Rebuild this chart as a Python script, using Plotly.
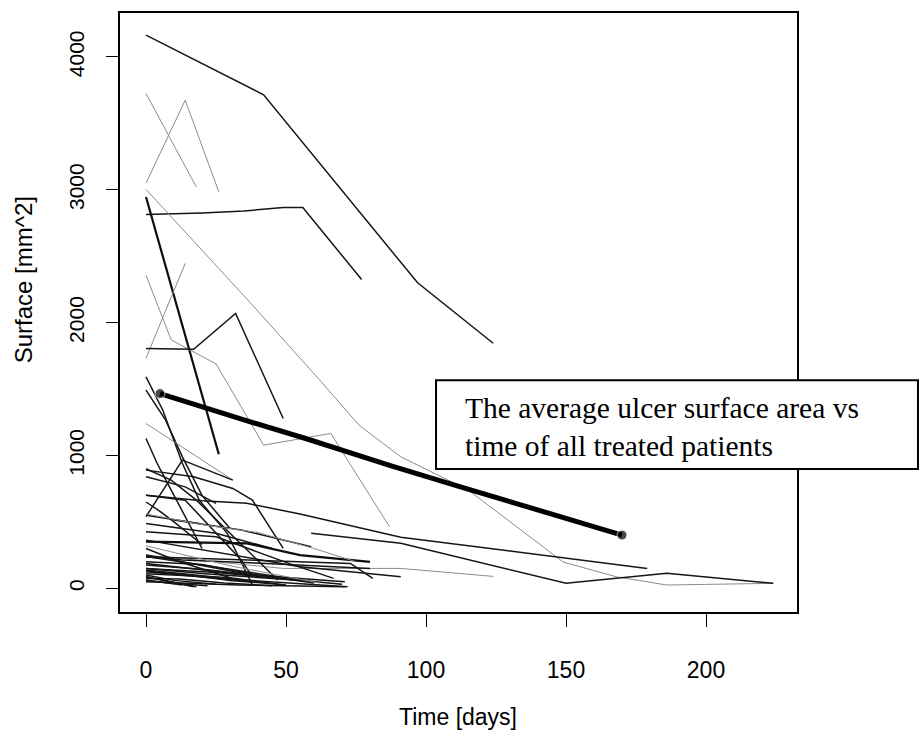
import plotly.graph_objects as go

# ---------------- data ----------------
patient_days = [
    [0, 42, 97, 124],
    [0, 18],
    [0, 14, 26],
    [0, 20, 35, 49, 56, 77],
    [0, 26],
    [0, 37, 62, 76, 91, 115, 149, 168, 186, 216, 224],
    [0, 9, 25, 42, 66, 87],
    [0, 14],
    [0, 17, 32, 49],
    [0, 6, 13, 19, 29, 38],
    [0, 7, 13, 20, 30],
    [0, 31],
    [0, 4, 9, 20],
    [0, 17, 31, 38, 49],
    [0, 14, 25],
    [0, 13, 31],
    [0, 20, 36, 55, 91, 179],
    [59, 91, 150, 186, 224],
    [0, 49, 91, 124],
    [0, 25, 51, 67],
    [0, 14, 31, 55, 91],
    [0, 73, 81],
    [0, 31, 55, 71],
    [0, 38],
    [0, 13],
    [0, 38],
    [0, 21, 55],
    [0, 17],
    [0, 33, 71],
    [10, 34, 59],
    [0, 9, 18, 36, 47],
    [0, 14, 34, 38],
    [0, 19],
    [0, 25, 45],
    [0, 36, 55, 80],
    [0, 13, 43, 80],
    [0, 35, 72],
    [0, 18],
    [0, 10, 25],
    [0, 20, 40, 60],
    [0, 12, 30],
    [0, 25, 50, 70],
    [0, 8, 22],
    [0, 30, 48],
    [0, 44, 56],
    [0, 5, 10, 20],
    [0, 20, 40, 60, 75],
    [0, 15, 30, 50],
    [0, 22, 40],
    [0, 12, 28, 45],
    [0, 30, 62],
]
patient_surface = [
    [4165, 3715, 2300, 1845],
    [3725, 3020],
    [3050, 3675, 2985],
    [2815, 2826, 2841, 2867, 2867, 2325],
    [2946, 1010],
    [3003, 2156, 1569, 1230, 990, 741, 198, 87, 25, 38, 38],
    [2357, 1870, 1690, 1078, 1166, 463],
    [1733, 2446],
    [1806, 1800, 2069, 1279],
    [1592, 1341, 940, 664, 414, 25],
    [1492, 1266, 990, 700, 450],
    [1241, 815],
    [1128, 940, 740, 300],
    [890, 840, 752, 664, 301],
    [840, 764, 640],
    [540, 965, 815],
    [700, 660, 640, 560, 384, 150],
    [414, 339, 38, 113, 38],
    [250, 150, 150, 90],
    [426, 388, 188, 75],
    [363, 313, 250, 163, 87],
    [238, 188, 75],
    [188, 113, 75, 50],
    [125, 50],
    [63, 25],
    [251, 100],
    [150, 110, 60],
    [88, 12],
    [50, 25, 12],
    [514, 439, 313],
    [900, 815, 664, 288, 63],
    [700, 664, 213, 87],
    [551, 489],
    [489, 414, 300],
    [351, 339, 250, 200],
    [238, 213, 188, 150],
    [138, 63, 12],
    [88, 12],
    [100, 60, 30],
    [200, 180, 100, 40],
    [300, 200, 80],
    [150, 120, 70, 30],
    [60, 40, 20],
    [110, 80, 30],
    [240, 100, 60],
    [650, 580, 500, 330],
    [560, 480, 420, 300, 200],
    [130, 100, 60, 25],
    [175, 140, 95],
    [75, 70, 40, 20],
    [320, 170, 40],
]
patient_tone = [
    "dark", "light", "light", "dark", "thick", "light", "light", "light",
    "dark", "dark", "dark", "light", "dark", "dark", "dark", "dark",
    "dark", "dark", "light", "dark", "dark", "dark", "dark", "dark",
    "dark", "dark", "dark", "dark", "dark", "dark", "dark", "dark",
    "dark", "dark", "thick", "dark", "dark", "dark", "dark", "dark",
    "dark", "dark", "dark", "dark", "dark", "dark", "light",
    "dark", "dark", "dark", "light",
]

mean_days = [5, 21, 37, 57, 87, 112, 124, 144, 170]
mean_surface = [1466, 1358, 1255, 1128, 925, 766, 690, 562, 401]

x_ticks = [0, 50, 100, 150, 200]
y_ticks = [0, 1000, 2000, 3000, 4000]
x_title = "Time [days]"
y_title = "Surface [mm^2]"
note_text = "The average ulcer surface area vs<br>time of all treated patients"

# ---------------- styling ----------------
tone_style = {
    "dark": dict(color="#151515", width=1.5),
    "light": dict(color="#8c8c8c", width=1.0),
    "thick": dict(color="#0d0d0d", width=2.2),
}

fig = go.Figure()
for d, s, t in zip(patient_days, patient_surface, patient_tone):
    fig.add_trace(go.Scatter(x=d, y=s, mode="lines", line=tone_style[t],
                             hoverinfo="skip", showlegend=False))

mean_marker_sizes = [10] + [0] * (len(mean_days) - 2) + [10]
fig.add_trace(go.Scatter(x=mean_days, y=mean_surface, mode="lines+markers",
                         line=dict(color="black", width=5),
                         marker=dict(color="black", size=mean_marker_sizes),
                         showlegend=False))

axis_font = dict(family="Liberation Sans, Arial, sans-serif", color="black")

fig.update_layout(
    width=922, height=734,
    margin=dict(l=120, r=125, t=13, b=122),
    paper_bgcolor="white", plot_bgcolor="white",
    showlegend=False,
    xaxis=dict(range=[-9.29, 232.5], tickvals=x_ticks, ticks="outside", ticklen=13,
               tickwidth=1.3, tickcolor="black", showline=True, linecolor="black",
               linewidth=1.8, mirror=True, showgrid=False, zeroline=False,
               tickfont=dict(size=23, **axis_font), ticklabelstandoff=23),
    yaxis=dict(range=[-178, 4331], tickvals=y_ticks, ticks="outside", ticklen=12,
               tickwidth=1.3, tickcolor="black", showline=True, linecolor="black",
               linewidth=1.8, mirror=True, showgrid=False, zeroline=False,
               tickangle=-90, tickfont=dict(size=21, **axis_font),
               ticklabelstandoff=14),
)

# axis titles
fig.add_annotation(text=x_title, xref="paper", yref="paper", x=0.499, y=-0.175,
                   xanchor="center", yanchor="middle", showarrow=False,
                   font=dict(size=23, **axis_font))
fig.add_annotation(text=y_title, xref="paper", yref="paper", x=-0.143, y=0.554,
                   xanchor="center", yanchor="middle", showarrow=False, textangle=-90,
                   font=dict(size=24, **axis_font))

# note box
fig.add_shape(type="rect", xref="paper", yref="paper",
              x0=0.4668, x1=1.1787, y0=0.2386, y1=0.3871,
              line=dict(color="black", width=2), fillcolor="white", layer="above")
fig.add_annotation(text=note_text, xref="paper", yref="paper", x=0.5066, y=0.3087,
                   xanchor="left", yanchor="middle", align="left", showarrow=False,
                   font=dict(size=29.5, family="Liberation Serif, Times New Roman, serif",
                             color="black"))

fig.write_html("out.html")
